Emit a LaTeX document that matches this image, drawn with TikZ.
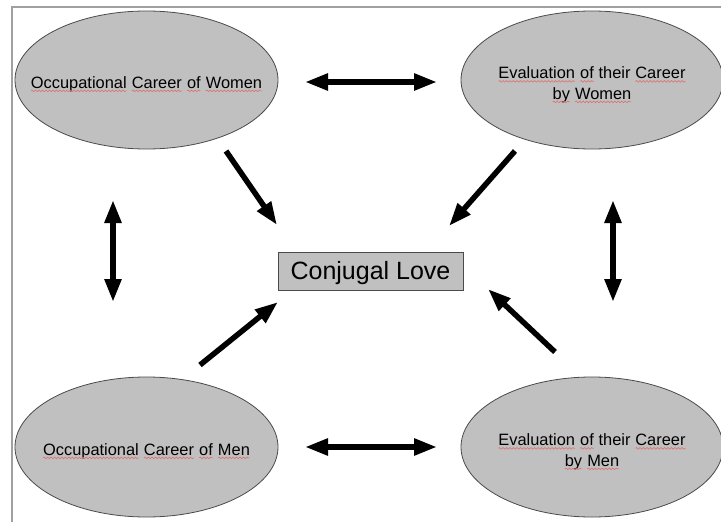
\documentclass[tikz,border=0pt]{standalone}
\usepackage{fontspec}
\setmainfont{Liberation Sans}
\usetikzlibrary{shapes.geometric,arrows.meta,decorations.pathmorphing,calc}
\definecolor{fillgray}{HTML}{C0C0C0}
\definecolor{edgegray}{HTML}{4A4A4A}
\definecolor{framegray}{HTML}{A0A0A0}
\definecolor{squig}{HTML}{E06A6A}
\newcommand\sq[1]{\tikz[baseline=(w.base)]{\node[shape=rectangle,draw=none,fill=none,inner sep=0pt,outer sep=0pt,minimum width=0pt,minimum height=0pt,text height=,text depth=,text=black](w){#1};\draw[squig,fill=none,line width=0.55pt,decorate,decoration={snake,amplitude=0.8pt,segment length=3.5pt}] ($(w.base west)+(0,-2.8pt)$) -- ($(w.base east)+(0,-2.8pt)$);}}
\tikzset{
  oval/.style={shape=ellipse,draw=edgegray,line width=0.8pt,fill=fillgray,inner ysep=0pt,inner xsep=-40pt,
    minimum width=263pt,minimum height=138pt,align=center,text=black,text height=20pt,
    font=\fontsize{16.4}{20.5}\selectfont},
  twoline/.style={text height=42pt},
  centrebox/.style={shape=rectangle,draw=edgegray,line width=0.8pt,fill=fillgray,inner sep=0pt,
    minimum width=185pt,minimum height=38pt,text=black,text height=22pt,font=\fontsize{25}{30}\selectfont},
  tipshape/.tip={Triangle[length=23pt,width=16pt]},
  arr/.style={line width=5.5pt,black,-tipshape},
  darr/.style={line width=5.5pt,black,tipshape-tipshape},
  frameline/.style={framegray,line width=1.5pt}
}
\begin{document}
\begin{tikzpicture}[x=1pt,y=-1pt]
\useasboundingbox (0,0) rectangle (721,522);
\draw[frameline] (12,522) -- (12,7) -- (721,7);

\node[oval] (tl) at (146.5,80) {\sq{Occupational} \sq{Career} \sq{of} \sq{Women}};
\node[oval,twoline,minimum width=262pt] (tr) at (592,80) {\sq{Evaluation} \sq{of} their \sq{Career}\\ \sq{by} \sq{Women}};
\node[oval,minimum height=140pt] (bl) at (146.5,447) {\sq{Occupational} \sq{Career} \sq{of} \sq{Men}};
\node[oval,twoline,minimum width=262pt,minimum height=140pt] (br) at (592,447) {\sq{Evaluation} \sq{of} their \sq{Career}\\ \sq{by} \sq{Men}};
\node[centrebox] (love) at (370.5,271) {Conjugal Love};

\coordinate (h1a) at (305,82);  \coordinate (h1b) at (437,82);
\coordinate (h2a) at (305,447); \coordinate (h2b) at (437,447);
\coordinate (v1a) at (113,200); \coordinate (v1b) at (113,302);
\coordinate (v2a) at (613,200); \coordinate (v2b) at (613,302);
\coordinate (d1a) at (226,151); \coordinate (d1b) at (277,225);
\coordinate (d2a) at (515,151); \coordinate (d2b) at (449,226);
\coordinate (d3a) at (200,365); \coordinate (d3b) at (278,302);
\coordinate (d4a) at (555,352); \coordinate (d4b) at (488,289);

\draw[darr] (h1a) -- (h1b);
\draw[darr] (h2a) -- (h2b);
\draw[darr] (v1a) -- (v1b);
\draw[darr] (v2a) -- (v2b);
\draw[arr] (d1a) -- (d1b);
\draw[arr] (d2a) -- (d2b);
\draw[arr] (d3a) -- (d3b);
\draw[arr] (d4a) -- (d4b);
\end{tikzpicture}
\end{document}
